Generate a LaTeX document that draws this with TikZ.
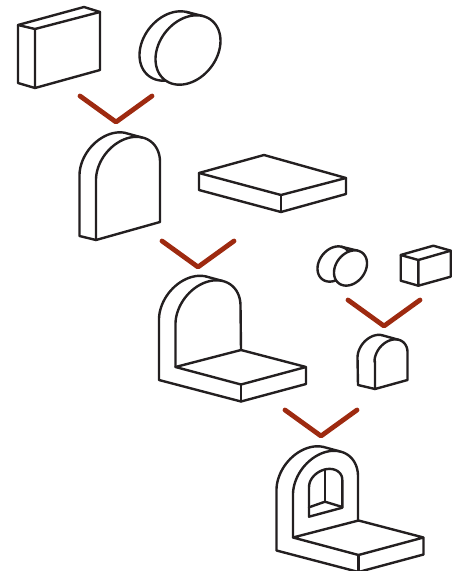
\documentclass[tikz,border=0pt]{standalone}
\definecolor{ink}{HTML}{231F20}
\definecolor{rust}{HTML}{9E2A10}
\newcommand{\isoarc}[5]{plot[domain=#4:#5,samples=70,variable=\q] ({#1+#3*cos(\q)},{#2-0.281*#3*cos(\q)-1.03*#3*sin(\q)})}
\newcommand{\isoto}[5]{-- plot[domain=#4:#5,samples=70,variable=\q] ({#1+#3*cos(\q)},{#2-0.281*#3*cos(\q)-1.03*#3*sin(\q)})}
\newcommand{\holeto}{-- plot[domain=180:0,samples=50,variable=\q] ({325.7+16.6*cos(\q)},{483.3-3.35*cos(\q)-14*sin(\q)})}
\tikzset{
  shape line/.style={draw=ink,line width=1.8pt,line join=round,line cap=round},
  check mark/.style={draw=rust,line width=3.6pt,line join=round,line cap=round}
}
\begin{document}
\begin{tikzpicture}[x=0.75pt,y=-0.75pt]
\useasboundingbox (0,0) rectangle (463,571);
% large box
\draw[shape line] (35,29) -- (100,12) -- (100,70) -- (35,88) -- cycle;
\draw[shape line] (35,29) -- (18,25) -- (84,7) -- (100,12);
\draw[shape line] (18,25) -- (18,83) -- (35,88);
% large disc
\draw[shape line] \isoarc{172}{46}{32.5}{0}{360} -- cycle;
\draw[shape line] (186.3,11.9) -- (202.3,15.9);
\draw[shape line,fill=white] \isoarc{188}{50}{32.5}{0}{360} -- cycle;
% first arch
\draw[shape line] \isoarc{111.5}{166.5}{32}{64}{180} -- (79.5,236) -- (96,240);
\draw[shape line] (125.5,133) -- (142,137.5);
\draw[shape line] (96,240) -- (96,180) \isoto{128}{171}{32}{180}{0} -- (160,222) -- cycle;
% plate
\draw[shape line] (199,173) -- (264,155) -- (346,178) -- (281,195) -- cycle;
\draw[shape line] (199,173) -- (199,190) -- (281,212) -- (346,194) -- (346,178);
\draw[shape line] (281,195) -- (281,212);
% second part
\draw[shape line] \isoarc{191.5}{310.5}{32.5}{64}{180} -- (159,380) -- (241,401.5) -- (306,384) -- (306,367) -- (241,350) -- (175.5,367) -- (241,384.5) -- (306,367);
\draw[shape line] (241,384.5) -- (241,401.5);
\draw[shape line] (205.8,276.4) -- (222.3,280.9);
\draw[shape line] (175.5,367) -- (175.5,324) \isoto{208}{315}{32.5}{180}{0} -- (241,350);
% small disc
\draw[shape line] \isoarc{334}{264}{16.5}{0}{360} -- cycle;
\draw[shape line] (341.2,246.7) -- (357.7,250.7);
\draw[shape line,fill=white] \isoarc{350.5}{268}{16.5}{0}{360} -- cycle;
% small box
\draw[shape line] (418.3,260) -- (450.7,250.7) -- (450.7,276.7) -- (418.3,285.7) -- cycle;
\draw[shape line] (418.3,260) -- (400.7,255) -- (433.3,245.7) -- (450.7,250.7);
\draw[shape line] (400.7,255) -- (400.7,280.7) -- (418.3,285.7);
% small arch
\draw[shape line] \isoarc{374.5}{353}{17}{64}{180} -- (358,385) -- (375,389);
\draw[shape line] (382,335.2) -- (398.2,339.7);
\draw[shape line] (375,389) -- (375,361.6) \isoto{391}{357}{16.5}{180}{0} -- (407.5,380) -- cycle;
% final part
\draw[shape line] \isoarc{309}{481}{32.5}{64}{180} -- (276.5,550.5) -- (358.5,572) -- (423.5,554.5) -- (423.5,537.5) -- (358.5,520.5) -- (293,537.5) -- (358.5,555) -- (423.5,537.5);
\draw[shape line] (358.5,555) -- (358.5,572);
\draw[shape line] (323.3,446.9) -- (339.8,451.4);
\draw[shape line] (293,537.5) -- (293,494.6) \isoto{325.5}{485.5}{32.5}{180}{0} -- (358,520.5);
% hole in the final part
\draw[shape line] (309,516.7) -- (309,486.7) \holeto -- (342.3,507.7) -- cycle;
\draw[shape line] (309,507.3) -- (325,501.7) -- (342.3,507);
\draw[shape line] (325,501.7) -- (325,469.5);
% marks
\draw[check mark] (80,96) -- (116,122) -- (152,96);
\draw[check mark] (162,241) -- (198,267) -- (234,241);
\draw[check mark] (348,300) -- (384,326) -- (420,300);
\draw[check mark] (285,410) -- (321,436) -- (357,410);
\end{tikzpicture}
\end{document}
